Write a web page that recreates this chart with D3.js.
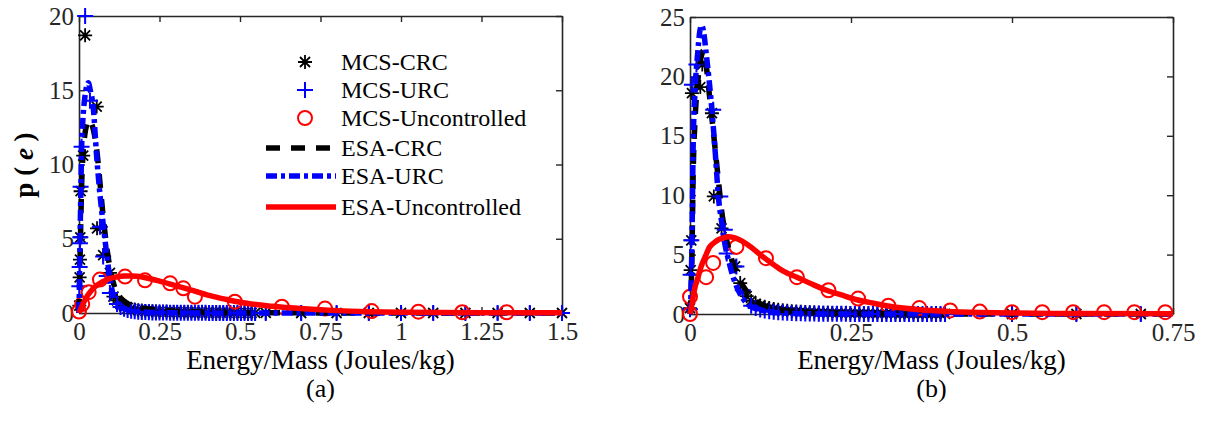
<!DOCTYPE html>
<html>
<head>
<meta charset="utf-8">
<script src="https://cdn.jsdelivr.net/npm/d3@7"></script>
<style>
  body { margin: 0; background: #fff; }
  svg text { font-family: "Liberation Serif", "Times New Roman", Times, "DejaVu Serif", serif; }
</style>
</head>
<body>
<script>
// ---------- panel (a) ----------
const xTicksA = [0, 0.25, 0.5, 0.75, 1, 1.25, 1.5];
const xTickLabelsA = ["0", "0.25", "0.5", "0.75", "1", "1.25", "1.5"];
const yTicksA = [0, 5, 10, 15, 20];

// ESA curves share one energy grid
const esaGridA = [0, 0.002, 0.004, 0.006, 0.008, 0.012, 0.018, 0.024, 0.029, 0.035, 0.044, 0.055, 0.065, 0.075, 0.087, 0.1, 0.11, 0.12, 0.14, 0.16, 0.18, 0.21, 0.25, 0.3, 0.355, 0.4, 0.45, 0.5, 0.6, 0.7, 0.8, 0.9, 1.0, 1.25, 1.5];
const esaCrcA = [0, 2, 4.5, 6.5, 8.5, 10.5, 12, 12.7, 13, 12.9, 12.4, 11, 8.8, 6.5, 4.3, 2.6, 1.8, 1.3, 0.8, 0.5, 0.38, 0.28, 0.18, 0.12, 0.08, 0.05, 0.04, 0.03, 0.02, 0.01, 0, 0, 0, 0, 0];
const esaUrcA = [0, 3, 6, 8.5, 11, 13, 14.5, 15.3, 15.5, 15, 13.9, 10.5, 8, 6, 3.8, 1.8, 1.0, 0.6, 0.3, 0.15, 0.1, 0.05, 0.02, 0.01, 0, 0, 0, 0, 0, 0, 0, 0, 0, 0, 0];
const esaUncA = [0, 0.1, 0.2, 0.3, 0.4, 0.6, 0.85, 1.08, 1.25, 1.42, 1.66, 1.85, 2.0, 2.12, 2.25, 2.35, 2.4, 2.44, 2.49, 2.5, 2.47, 2.36, 2.15, 1.85, 1.5, 1.2, 0.95, 0.72, 0.45, 0.28, 0.16, 0.09, 0.05, 0.02, 0.01];

// MCS samples near the peak
const mcsCrcHeadAE = [0.001, 0.002, 0.003, 0.004, 0.005, 0.013, 0.019, 0.055, 0.056, 0.075, 0.096, 0.107];
const mcsCrcHeadAP = [0.5, 2.4, 3.6, 5.1, 8.2, 10.6, 18.7, 13.9, 5.7, 3.9, 2.7, 1.1];
const mcsUrcHeadAE = [0.001, 0.002, 0.003, 0.004, 0.005, 0.008, 0.019, 0.034, 0.065, 0.075, 0.086, 0.096];
const mcsUrcHeadAP = [1.8, 3.1, 4.7, 5.1, 8.5, 11.2, 20.0, 14.3, 5.8, 3.8, 2.5, 1.35];
// MCS tail bins (shared by CRC and URC)
const mcsTailAE = [0.118, 0.129, 0.140, 0.151, 0.162, 0.173, 0.184, 0.195, 0.206, 0.217, 0.228, 0.239, 0.250, 0.261, 0.272, 0.283, 0.294, 0.305, 0.316, 0.327, 0.338, 0.349, 0.360, 0.371, 0.382, 0.393, 0.404, 0.415, 0.426, 0.437, 0.448, 0.459, 0.470, 0.481, 0.492, 0.503, 0.514, 0.525, 0.536, 0.547, 0.58, 0.69, 0.8, 0.9, 1.0, 1.1, 1.2, 1.3, 1.4, 1.5];
const mcsCrcTailAP = [0.85, 0.6, 0.45, 0.35, 0.28, 0.23, 0.19, 0.16, 0.14, 0.12, 0.11, 0.1, 0.09, 0.08, 0.08, 0.07, 0.06, 0.06, 0.05, 0.05, 0.05, 0.04, 0.04, 0.04, 0.03, 0.03, 0.03, 0.03, 0.02, 0.02, 0.02, 0.02, 0.02, 0.02, 0.01, 0.01, 0.01, 0.01, 0.01, 0.01, 0.01, 0, 0, 0, 0, 0, 0, 0, 0, 0];
const mcsUrcTailAP = [0.6, 0.4, 0.28, 0.2, 0.15, 0.11, 0.09, 0.07, 0.06, 0.05, 0.04, 0.04, 0.03, 0.03, 0.03, 0.02, 0.02, 0.02, 0.02, 0.01, 0.01, 0.01, 0.01, 0.01, 0.01, 0.01, 0, 0, 0, 0, 0, 0, 0, 0, 0, 0, 0, 0, 0, 0, 0, 0, 0, 0, 0, 0, 0, 0, 0, 0];
const mcsUncAE = [0.0, 0.01, 0.03, 0.065, 0.143, 0.205, 0.283, 0.324, 0.36, 0.484, 0.63, 0.764, 0.909, 1.054, 1.19, 1.328];
const mcsUncAP = [0.1, 0.6, 1.4, 2.25, 2.45, 2.2, 2.0, 1.66, 1.1, 0.76, 0.42, 0.3, 0.13, 0.09, 0.05, 0.05];

// ---------- panel (b) ----------
const xTicksB = [0, 0.25, 0.5, 0.75];
const xTickLabelsB = ["0", "0.25", "0.5", "0.75"];
const yTicksB = [0, 5, 10, 15, 20, 25];

const esaGridB = [0, 0.0015, 0.003, 0.005, 0.008, 0.012, 0.015, 0.018, 0.021, 0.025, 0.03, 0.034, 0.04, 0.044, 0.049, 0.054, 0.06, 0.067, 0.075, 0.088, 0.1, 0.116, 0.13, 0.145, 0.166, 0.19, 0.212, 0.235, 0.259, 0.285, 0.31, 0.357, 0.4, 0.45, 0.5, 0.6, 0.75];
const esaCrcB = [0, 1.5, 5, 12, 16.5, 19.5, 21, 21.8, 22.2, 21, 18.5, 16.5, 13.4, 11.3, 8.75, 7, 5.5, 4.2, 3.1, 1.9, 1.2, 0.7, 0.45, 0.3, 0.2, 0.13, 0.09, 0.06, 0.04, 0.03, 0.02, 0.01, 0, 0, 0, 0, 0];
const esaUrcB = [0, 1.7, 6, 14.4, 19, 22, 23.7, 24.3, 23.8, 22, 19.5, 17.2, 13, 9.9, 7.8, 5.95, 4.5, 3.1, 2.0, 0.9, 0.5, 0.25, 0.12, 0.06, 0.03, 0.01, 0, 0, 0, 0, 0, 0, 0, 0, 0, 0, 0];
const esaUncB = [0, 0.4, 0.8, 1.5, 2.3, 3.0, 3.6, 4.1, 4.5, 5.0, 5.6, 5.85, 6.1, 6.25, 6.35, 6.45, 6.5, 6.45, 6.3, 5.9, 5.4, 4.7, 4.15, 3.6, 3.1, 2.5, 2.0, 1.6, 1.2, 0.9, 0.65, 0.36, 0.22, 0.13, 0.08, 0.04, 0.02];

const mcsCrcHeadBE = [0.0, 0.001, 0.002, 0.003, 0.016, 0.019, 0.034, 0.037, 0.049, 0.07, 0.078, 0.088];
const mcsCrcHeadBP = [0.5, 3.7, 6.2, 18.6, 19.1, 21.0, 16.9, 9.9, 7.2, 4.0, 2.6, 1.5];
const mcsUrcHeadBE = [0.0, 0.001, 0.002, 0.003, 0.01, 0.036, 0.047, 0.054, 0.057, 0.072, 0.082];
const mcsUrcHeadBP = [0.4, 3.3, 6.2, 19.3, 21.0, 17.2, 9.9, 7.1, 5.1, 4.0, 2.0];
const mcsTailBE = [0.095, 0.102, 0.109, 0.116, 0.123, 0.130, 0.137, 0.144, 0.151, 0.158, 0.165, 0.172, 0.179, 0.186, 0.193, 0.200, 0.207, 0.214, 0.221, 0.228, 0.235, 0.242, 0.249, 0.256, 0.263, 0.270, 0.277, 0.284, 0.291, 0.298, 0.305, 0.312, 0.319, 0.326, 0.333, 0.340, 0.347, 0.354, 0.361, 0.368, 0.375, 0.382, 0.389, 0.396, 0.5, 0.6, 0.7];
const mcsCrcTailBP = [1.1, 0.85, 0.7, 0.6, 0.5, 0.42, 0.36, 0.31, 0.27, 0.24, 0.21, 0.19, 0.17, 0.15, 0.13, 0.12, 0.11, 0.1, 0.09, 0.08, 0.07, 0.07, 0.06, 0.06, 0.05, 0.05, 0.04, 0.04, 0.04, 0.03, 0.03, 0.03, 0.03, 0.02, 0.02, 0.02, 0.02, 0.02, 0.01, 0.01, 0.01, 0.01, 0.01, 0.01, 0, 0, 0];
const mcsUrcTailBP = [0.7, 0.5, 0.38, 0.3, 0.24, 0.19, 0.15, 0.12, 0.1, 0.08, 0.07, 0.06, 0.05, 0.04, 0.04, 0.03, 0.03, 0.03, 0.02, 0.02, 0.02, 0.02, 0.01, 0.01, 0.01, 0.01, 0.01, 0.01, 0.01, 0, 0, 0, 0, 0, 0, 0, 0, 0, 0, 0, 0, 0, 0, 0, 0, 0, 0];
const mcsUncBE = [0.0, 0.0, 0.025, 0.036, 0.072, 0.118, 0.166, 0.215, 0.261, 0.308, 0.356, 0.404, 0.45, 0.5, 0.547, 0.595, 0.643, 0.69, 0.738];
const mcsUncBP = [0.0, 1.45, 3.1, 4.3, 5.65, 4.7, 3.1, 2.0, 1.3, 0.7, 0.5, 0.3, 0.2, 0.15, 0.15, 0.15, 0.15, 0.15, 0.15];

const legendNames = ["MCS-CRC", "MCS-URC", "MCS-Uncontrolled", "ESA-CRC", "ESA-URC", "ESA-Uncontrolled"];

// ---------- drawing ----------
const serif = "'Liberation Serif', 'Times New Roman', Times, 'DejaVu Serif', serif";
const axisColor = "#262626";
const starPath = "M-7,0H7M0,-7V7M-5,-5L5,5M-5,5L5,-5";
const plusPath = "M-8,0H8M0,-8V8";
const crcDash = "14,11";
const urcDash = "11,4,4,4";

const svg = d3.select("body")
  .append("svg")
    .attr("width", 1207)
    .attr("height", 431)
    .style("display", "block");

const zip = (xs, ys) => xs.map((d, i) => [d, ys[i]]);

function drawPanel(p) {
  const x = d3.scaleLinear().domain([0, p.xMax]).range([p.left, p.right]);
  const y = d3.scaleLinear().domain([0, p.yMax]).range([p.bottom, p.top]);
  const g = svg.append("g");

  // box with inward ticks on all sides
  g.append("g")
    .attr("transform", `translate(0,${p.bottom})`)
    .call(d3.axisBottom(x).tickValues(p.xTicks).tickFormat((d, i) => p.xLabels[i]).tickSizeInner(-6).tickSizeOuter(0).tickPadding(9));
  g.append("g")
    .attr("transform", `translate(0,${p.top})`)
    .call(d3.axisTop(x).tickValues(p.xTicks).tickFormat("").tickSizeInner(-6).tickSizeOuter(0));
  g.append("g")
    .attr("transform", `translate(${p.left},0)`)
    .call(d3.axisLeft(y).tickValues(p.yTicks).tickSizeInner(-6).tickSizeOuter(0).tickPadding(5));
  g.append("g")
    .attr("transform", `translate(${p.right},0)`)
    .call(d3.axisRight(y).tickValues(p.yTicks).tickFormat("").tickSizeInner(-6).tickSizeOuter(0));

  g.selectAll(".domain").attr("stroke", axisColor).attr("stroke-width", 1.6);
  g.selectAll(".tick line").attr("stroke", axisColor).attr("stroke-width", 1.4);
  g.selectAll("g").attr("font-family", serif);
  g.selectAll(".tick text")
    .attr("fill", axisColor)
    .style("font-family", serif)
    .style("font-size", "25px");

  // MCS markers
  g.append("g").selectAll("path")
    .data(p.mcsCrc)
    .join("path")
      .attr("transform", d => `translate(${x(d[0])},${y(d[1])})`)
      .attr("d", starPath)
      .attr("stroke", "#000")
      .attr("stroke-width", 1.8)
      .attr("fill", "none");
  g.append("g").selectAll("path")
    .data(p.mcsUrc)
    .join("path")
      .attr("transform", d => `translate(${x(d[0])},${y(d[1])})`)
      .attr("d", plusPath)
      .attr("stroke", "#0000ff")
      .attr("stroke-width", 2)
      .attr("fill", "none");
  g.append("g").selectAll("circle")
    .data(p.mcsUnc)
    .join("circle")
      .attr("cx", d => x(d[0]))
      .attr("cy", d => y(d[1]))
      .attr("r", 7)
      .attr("stroke", "#ff0000")
      .attr("stroke-width", 2)
      .attr("fill", "none");

  // ESA curves
  const line = d3.line().x(d => x(d[0])).y(d => y(d[1])).curve(d3.curveMonotoneX);
  g.append("path").datum(p.esaCrc).attr("d", line)
    .attr("fill", "none").attr("stroke", "#000").attr("stroke-width", 5.5).attr("stroke-dasharray", crcDash);
  g.append("path").datum(p.esaUrc).attr("d", line)
    .attr("fill", "none").attr("stroke", "#0000ff").attr("stroke-width", 5.5).attr("stroke-dasharray", urcDash);
  g.append("path").datum(p.esaUnc).attr("d", line)
    .attr("fill", "none").attr("stroke", "#ff0000").attr("stroke-width", 5.5);

  // x label and panel tag
  const cx = (p.left + p.right) / 2;
  svg.append("text")
    .attr("x", cx).attr("y", 369)
    .attr("text-anchor", "middle")
    .style("font-family", serif)
    .style("font-size", "27px")
    .text("Energy/Mass (Joules/kg)");
  svg.append("text")
    .attr("x", cx).attr("y", 397)
    .attr("text-anchor", "middle")
    .style("font-family", serif)
    .style("font-size", "26px")
    .text(p.tag);
}

drawPanel({
  left: 79, right: 562, top: 16, bottom: 313,
  xMax: 1.5, yMax: 20,
  xTicks: xTicksA, xLabels: xTickLabelsA, yTicks: yTicksA,
  mcsCrc: zip(mcsCrcHeadAE, mcsCrcHeadAP).concat(zip(mcsTailAE, mcsCrcTailAP)),
  mcsUrc: zip(mcsUrcHeadAE, mcsUrcHeadAP).concat(zip(mcsTailAE, mcsUrcTailAP)),
  mcsUnc: zip(mcsUncAE, mcsUncAP),
  esaCrc: zip(esaGridA, esaCrcA),
  esaUrc: zip(esaGridA, esaUrcA),
  esaUnc: zip(esaGridA, esaUncA),
  tag: "(a)"
});

drawPanel({
  left: 690, right: 1173, top: 17, bottom: 314,
  xMax: 0.75, yMax: 25,
  xTicks: xTicksB, xLabels: xTickLabelsB, yTicks: yTicksB,
  mcsCrc: zip(mcsCrcHeadBE, mcsCrcHeadBP).concat(zip(mcsTailBE, mcsCrcTailBP)),
  mcsUrc: zip(mcsUrcHeadBE, mcsUrcHeadBP).concat(zip(mcsTailBE, mcsUrcTailBP)),
  mcsUnc: zip(mcsUncBE, mcsUncBP),
  esaCrc: zip(esaGridB, esaCrcB),
  esaUrc: zip(esaGridB, esaUrcB),
  esaUnc: zip(esaGridB, esaUncB),
  tag: "(b)"
});

// y label p(e), bold with italic e
const ylab = svg.append("text")
  .attr("transform", "translate(33,165) rotate(-90)")
  .attr("text-anchor", "middle")
  .style("font-family", serif)
  .style("font-size", "27px")
  .style("font-weight", "bold");
ylab.append("tspan").text("p ( ");
ylab.append("tspan").style("font-style", "italic").text("e");
ylab.append("tspan").text(" )");

// legend in panel (a)
const legend = svg.append("g");
const rowY = [62, 90, 118, 148, 176, 207];
legend.selectAll("text")
  .data(legendNames)
  .join("text")
    .attr("x", 341)
    .attr("y", (d, i) => rowY[i] + 8)
    .style("font-family", serif)
    .style("font-size", "24px")
    .text(d => d);
legend.append("path").attr("transform", `translate(305,${rowY[0]})`).attr("d", starPath)
  .attr("stroke", "#000").attr("stroke-width", 1.8);
legend.append("path").attr("transform", `translate(305,${rowY[1]})`).attr("d", plusPath)
  .attr("stroke", "#0000ff").attr("stroke-width", 2);
legend.append("circle").attr("cx", 305).attr("cy", rowY[2]).attr("r", 7)
  .attr("stroke", "#ff0000").attr("stroke-width", 2).attr("fill", "none");
legend.append("line").attr("x1", 266).attr("x2", 336).attr("y1", rowY[3]).attr("y2", rowY[3])
  .attr("stroke", "#000").attr("stroke-width", 5.5).attr("stroke-dasharray", crcDash);
legend.append("line").attr("x1", 266).attr("x2", 336).attr("y1", rowY[4]).attr("y2", rowY[4])
  .attr("stroke", "#0000ff").attr("stroke-width", 5.5).attr("stroke-dasharray", urcDash);
legend.append("line").attr("x1", 266).attr("x2", 336).attr("y1", rowY[5]).attr("y2", rowY[5])
  .attr("stroke", "#ff0000").attr("stroke-width", 5.5);
</script>
</body>
</html>
